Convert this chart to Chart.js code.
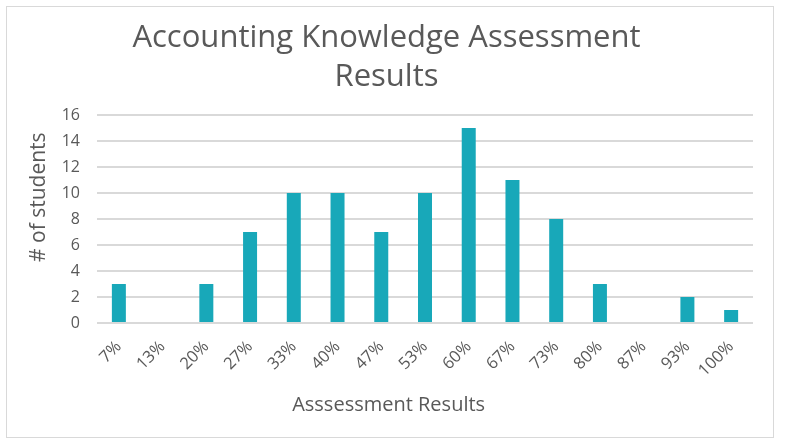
<!DOCTYPE html>
<html>
<head>
<meta charset="utf-8">
<script src="https://cdn.jsdelivr.net/npm/chart.js@4"></script>
<style>
  html, body { margin: 0; padding: 0; background: #fff; }
  #wrap { position: relative; width: 787px; height: 445px; }
  #frame { position: absolute; left: 6px; top: 6px; width: 768px; height: 432px; box-sizing: border-box; border: 1.5px solid #d9d9d9; pointer-events: none; }
  canvas { position: absolute; left: 0; top: 0; }
</style>
</head>
<body>
<div id="wrap">
  <canvas id="c" width="787" height="445"></canvas>
  <div id="frame"></div>
</div>
<script>
const categories = ["7%", "13%", "20%", "27%", "33%", "40%", "47%", "53%", "60%", "67%", "73%", "80%", "87%", "93%", "100%"];
const students = [3, 0, 3, 7, 10, 10, 7, 10, 15, 11, 8, 3, 0, 2, 1];
const titleLines = ["Accounting Knowledge Assessment", "Results"];
const xTitle = "Asssessment Results";
const yTitle = "# of students";

const textColor = "#595959";
const gridColor = "#d9d9d9";
const fontFamily = "'Open Sans', 'Noto Sans', sans-serif";

new Chart(document.getElementById("c"), {
  type: "bar",
  data: {
    labels: categories,
    datasets: [{
      data: students,
      backgroundColor: "#18a8b9",
      borderWidth: 0,
      categoryPercentage: 1,
      barPercentage: 0.32
    }]
  },
  options: {
    responsive: false,
    animation: false,
    devicePixelRatio: 1,
    layout: { padding: { left: 20, right: 34, top: 0, bottom: 0 } },
    plugins: {
      legend: { display: false },
      tooltip: { enabled: false },
      title: {
        display: true,
        text: titleLines,
        color: textColor,
        font: { family: fontFamily, size: 31, weight: "normal", lineHeight: 1.26 },
        padding: { top: 18.5, bottom: 18.5 }
      }
    },
    scales: {
      x: {
        grid: { display: false, drawTicks: false },
        border: { display: false },
        ticks: {
          color: textColor,
          font: { family: fontFamily, size: 16.5 },
          maxRotation: 45,
          minRotation: 45,
          autoSkip: false,
          padding: 14
        },
        title: {
          display: true,
          text: xTitle + "              ",
          color: textColor,
          font: { family: fontFamily, size: 20, lineHeight: 1.2 },
          padding: { top: 0, bottom: 28 }
        },
        afterFit: (scale) => { scale.height = 122; }
      },
      y: {
        min: 0,
        max: 16,
        grid: { color: gridColor, lineWidth: 2, drawTicks: false },
        border: { display: false },
        ticks: {
          stepSize: 2,
          color: textColor,
          font: { family: fontFamily, size: 16 },
          padding: 17
        },
        title: {
          display: true,
          text: "        " + yTitle,
          color: textColor,
          font: { family: fontFamily, size: 21, lineHeight: 1.2 },
          padding: { top: 6, bottom: 0 }
        },
        afterFit: (scale) => { scale.width = 77; }
      }
    }
  }
});
</script>
</body>
</html>
